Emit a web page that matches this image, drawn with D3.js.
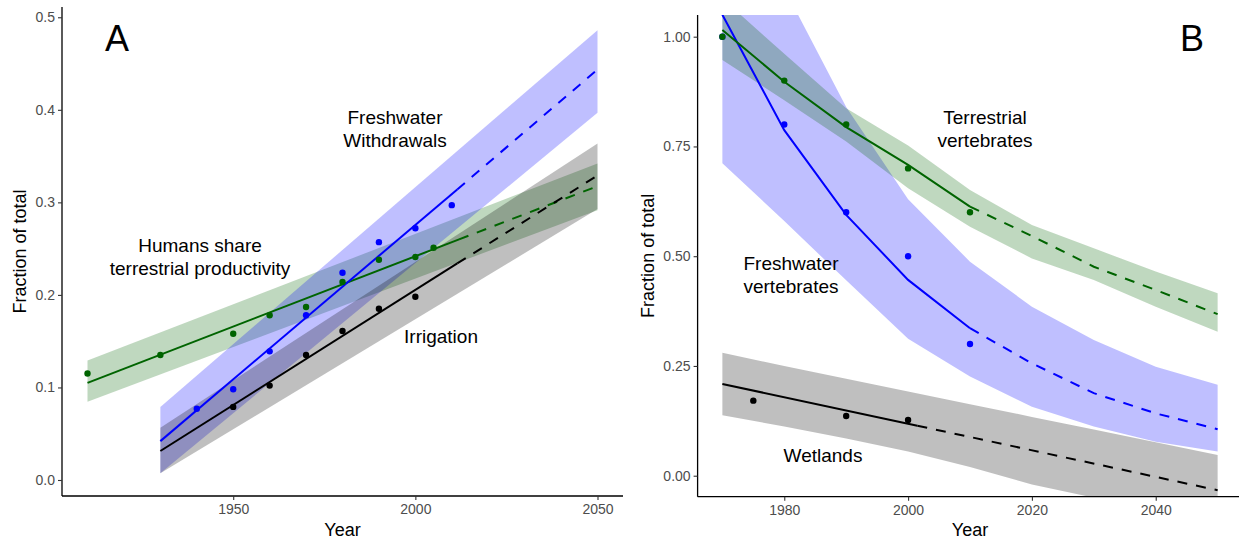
<!DOCTYPE html>
<html>
<head>
<meta charset="utf-8">
<script src="https://cdn.jsdelivr.net/npm/d3@7"></script>
<style>
  body { margin: 0; background: #fff; }
  text { font-family: "Liberation Sans", Arial, sans-serif; }
</style>
</head>
<body>
<div id="chart"></div>
<script>
// ---- panel A : fraction of total, linear fits ----
// humans share of terrestrial productivity (green)
const aTerrPtYears = [1910, 1930, 1950, 1960, 1970, 1980, 1990, 2000, 2005]
const aTerrPts = [0.115, 0.135, 0.158, 0.178, 0.187, 0.214, 0.238, 0.241, 0.251]
const aTerrFitYears = [1910, 2012, 2050]
const aTerrFit = [0.105, 0.260, 0.3175]
const aTerrBandYears = [1910, 2050]
const aTerrHi = [0.129, 0.342]
const aTerrLo = [0.0846, 0.2916]

// freshwater withdrawals (blue)
const aWaterPtYears = [1940, 1950, 1960, 1970, 1980, 1990, 2000, 2010]
const aWaterPts = [0.077, 0.098, 0.139, 0.178, 0.224, 0.257, 0.272, 0.297]
const aWaterFitYears = [1930, 2011.5, 2050]
const aWaterFit = [0.042, 0.314, 0.4435]
const aWaterBandYears = [1930, 2050]
const aWaterHi = [0.079, 0.486]
const aWaterLo = [0.0072, 0.3967]

// irrigation (black)
const aIrrPtYears = [1950, 1960, 1970, 1980, 1990, 2000]
const aIrrPts = [0.079, 0.102, 0.135, 0.161, 0.185, 0.198]
const aIrrFitYears = [1930, 2011.5, 2050]
const aIrrFit = [0.0313, 0.234, 0.329]
const aIrrBandYears = [1930, 2050]
const aIrrHi = [0.0565, 0.3635]
const aIrrLo = [0.0072, 0.2927]

const aXTicks = [1950, 2000, 2050]
const aYTicks = [0.0, 0.1, 0.2, 0.3, 0.4, 0.5]

// ---- panel B : biodiversity decline ----
const bYears = [1970, 1980, 1990, 2000, 2010, 2020, 2030, 2040, 2050]

// terrestrial vertebrates (green)
const bTerrPtYears = [1970, 1980, 1990, 2000, 2010]
const bTerrPts = [1.00, 0.90, 0.80, 0.70, 0.60]
const bTerrFit = [1.015, 0.8975, 0.794, 0.708, 0.613, 0.546, 0.476, 0.423, 0.368]
const bTerrHi = [1.087, 0.961, 0.837, 0.752, 0.651, 0.571, 0.518, 0.465, 0.4155]
const bTerrLo = [0.947, 0.855, 0.761, 0.655, 0.567, 0.495, 0.446, 0.385, 0.328]

// freshwater vertebrates (blue)
const bFreshPtYears = [1970, 1980, 1990, 2000, 2010]
const bFreshPts = [1.00, 0.80, 0.60, 0.50, 0.30]
const bFreshFit = [1.05, 0.787, 0.594, 0.446, 0.336, 0.256, 0.188, 0.142, 0.106]
const bFreshHi = [1.5, 1.11, 0.84, 0.63, 0.4875, 0.385, 0.309, 0.248, 0.207]
const bFreshLo = [0.712, 0.58, 0.445, 0.312, 0.226, 0.157, 0.112, 0.0775, 0.055]

// wetlands (black)
const bWetPtYears = [1975, 1990, 2000]
const bWetPts = [0.171, 0.136, 0.127]
const bWetFitYears = [1970, 2001.5, 2050]
const bWetFit = [0.209, 0.114, -0.033]
const bWetHi = [0.28, 0.25, 0.221, 0.192, 0.163, 0.134, 0.105, 0.076, 0.047]
const bWetLo = [0.138, 0.112, 0.085, 0.055, 0.02, -0.02, -0.05, -0.09, -0.13]

const bXTicks = [1980, 2000, 2020, 2040]
const bYTicks = [0.00, 0.25, 0.50, 0.75, 1.00]

const GREEN = "#006400", BLUE = "#0000FF", BLACK = "#000000"

const svg = d3.select("#chart").append("svg")
    .attr("width", 1239)
    .attr("height", 543)

// zip helpers
const pts = (xs, ys) => xs.map((d, i) => ({ x: d, y: ys[i] }))
const band = (xs, lo, hi) => xs.map((d, i) => ({ x: d, lo: lo[i], hi: hi[i] }))

function drawPanel(id, x, y, cfg) {
    const g = svg.append("g")
    const [x0, x1] = x.range()
    const [y0, y1] = y.range()

    g.append("clipPath").attr("id", "clip" + id)
        .append("rect")
        .attr("x", x0).attr("y", y1)
        .attr("width", x1 - x0).attr("height", y0 - y1)

    const plot = g.append("g").attr("clip-path", "url(#clip" + id + ")")

    const area = d3.area().x(d => x(d.x)).y0(d => y(d.lo)).y1(d => y(d.hi))
    const line = d3.line().x(d => x(d.x)).y(d => y(d.y))

    // ribbons first
    cfg.series.forEach(s => {
        plot.append("path")
            .datum(band(s.bandYears, s.lo, s.hi))
            .attr("d", area)
            .attr("fill", s.color)
            .attr("fill-opacity", 0.25)
    })

    // fitted lines: solid over the data period, dashed for the projection
    cfg.series.forEach(s => {
        const fit = pts(s.fitYears, s.fit)
        plot.append("path")
            .datum(fit.filter(d => d.x <= s.split))
            .attr("d", line)
            .attr("fill", "none")
            .attr("stroke", s.color)
            .attr("stroke-width", 2)
        plot.append("path")
            .datum(fit.filter(d => d.x >= s.split))
            .attr("d", line)
            .attr("fill", "none")
            .attr("stroke", s.color)
            .attr("stroke-width", 2)
            .attr("stroke-dasharray", "10,9")
    })

    cfg.series.forEach(s => {
        plot.selectAll(null)
            .data(pts(s.ptYears, s.pts))
            .enter().append("circle")
            .attr("cx", d => x(d.x))
            .attr("cy", d => y(d.y))
            .attr("r", 3.2)
            .attr("fill", s.color)
    })

    // axes
    const xAxis = g.append("g")
        .attr("transform", "translate(0," + y0 + ")")
        .call(d3.axisBottom(x).tickValues(cfg.xTicks).tickFormat(d3.format("d")).tickSize(4).tickPadding(4))
    const yAxis = g.append("g")
        .attr("transform", "translate(" + x0 + ",0)")
        .call(d3.axisLeft(y).tickValues(cfg.yTicks).tickFormat(d3.format(cfg.yFormat)).tickSize(4).tickPadding(3))

    ;[xAxis, yAxis].forEach(ax => {
        ax.select(".domain").attr("stroke", "#000").attr("stroke-width", 1.3)
        ax.selectAll(".tick line").attr("stroke", "#333").attr("stroke-width", 1.1)
        ax.selectAll(".tick text")
            .attr("fill", "#4d4d4d")
            .style("font-size", "14px")
            .style("font-family", "Liberation Sans, Arial, sans-serif")
    })
    // ggplot style: axis line covers the whole panel, no end caps
    xAxis.select(".domain").attr("d", "M" + x0 + ",0H" + x1)
    yAxis.select(".domain").attr("d", "M0," + y0 + "V" + y1)

    g.append("text")
        .attr("x", (x0 + x1) / 2 + cfg.xTitleDx)
        .attr("y", 536)
        .attr("text-anchor", "middle")
        .style("font-size", "18px")
        .text("Year")

    g.append("text")
        .attr("transform", "translate(" + cfg.yTitleX + "," + ((y0 + y1) / 2) + ") rotate(-90)")
        .attr("text-anchor", "middle")
        .style("font-size", "18px")
        .text("Fraction of total")

    g.append("text")
        .attr("x", cfg.tag[0]).attr("y", cfg.tag[1])
        .attr("text-anchor", "middle")
        .style("font-size", "36px")
        .text(cfg.tag[2])

    cfg.labels.forEach(l => {
        const t = g.append("text")
            .attr("text-anchor", "middle")
            .style("font-size", "19px")
        l.lines.forEach((s, i) => {
            t.append("tspan").attr("x", l.x).attr("y", l.y + i * 23).text(s)
        })
    })
}

// panel A
const xA = d3.scaleLinear().domain([1903, 2057]).range([62, 623])
const yA = d3.scaleLinear().domain([-0.0173, 0.5111]).range([496, 7])

drawPanel("A", xA, yA, {
    xTicks: aXTicks, yTicks: aYTicks, yFormat: ".1f",
    xTitleDx: 0, yTitleX: 26,
    tag: [117, 51, "A"],
    series: [
        { color: GREEN, ptYears: aTerrPtYears, pts: aTerrPts, fitYears: aTerrFitYears, fit: aTerrFit,
          bandYears: aTerrBandYears, lo: aTerrLo, hi: aTerrHi, split: 2012 },
        { color: BLUE, ptYears: aWaterPtYears, pts: aWaterPts, fitYears: aWaterFitYears, fit: aWaterFit,
          bandYears: aWaterBandYears, lo: aWaterLo, hi: aWaterHi, split: 2011.5 },
        { color: BLACK, ptYears: aIrrPtYears, pts: aIrrPts, fitYears: aIrrFitYears, fit: aIrrFit,
          bandYears: aIrrBandYears, lo: aIrrLo, hi: aIrrHi, split: 2011.5 }
    ],
    labels: [
        { x: 395, y: 124, lines: ["Freshwater", "Withdrawals"] },
        { x: 200, y: 252, lines: ["Humans share", "terrestrial productivity"] },
        { x: 441, y: 343, lines: ["Irrigation"] }
    ]
})

// panel B
const xB = d3.scaleLinear().domain([1966, 2054]).range([697.6, 1242.4])
const yB = d3.scaleLinear().domain([-0.0478, 1.0494]).range([496.7, 15])

drawPanel("B", xB, yB, {
    xTicks: bXTicks, yTicks: bYTicks, yFormat: ".2f",
    xTitleDx: 0, yTitleX: 654,
    tag: [1192, 51, "B"],
    series: [
        { color: BLUE, ptYears: bFreshPtYears, pts: bFreshPts, fitYears: bYears, fit: bFreshFit,
          bandYears: bYears, lo: bFreshLo, hi: bFreshHi, split: 2010 },
        { color: GREEN, ptYears: bTerrPtYears, pts: bTerrPts, fitYears: bYears, fit: bTerrFit,
          bandYears: bYears, lo: bTerrLo, hi: bTerrHi, split: 2010 },
        { color: BLACK, ptYears: bWetPtYears, pts: bWetPts, fitYears: bWetFitYears, fit: bWetFit,
          bandYears: bYears, lo: bWetLo, hi: bWetHi, split: 2001.5 }
    ],
    labels: [
        { x: 985, y: 124, lines: ["Terrestrial", "vertebrates"] },
        { x: 791, y: 270, lines: ["Freshwater", "vertebrates"] },
        { x: 823, y: 462, lines: ["Wetlands"] }
    ]
})
</script>
</body>
</html>
